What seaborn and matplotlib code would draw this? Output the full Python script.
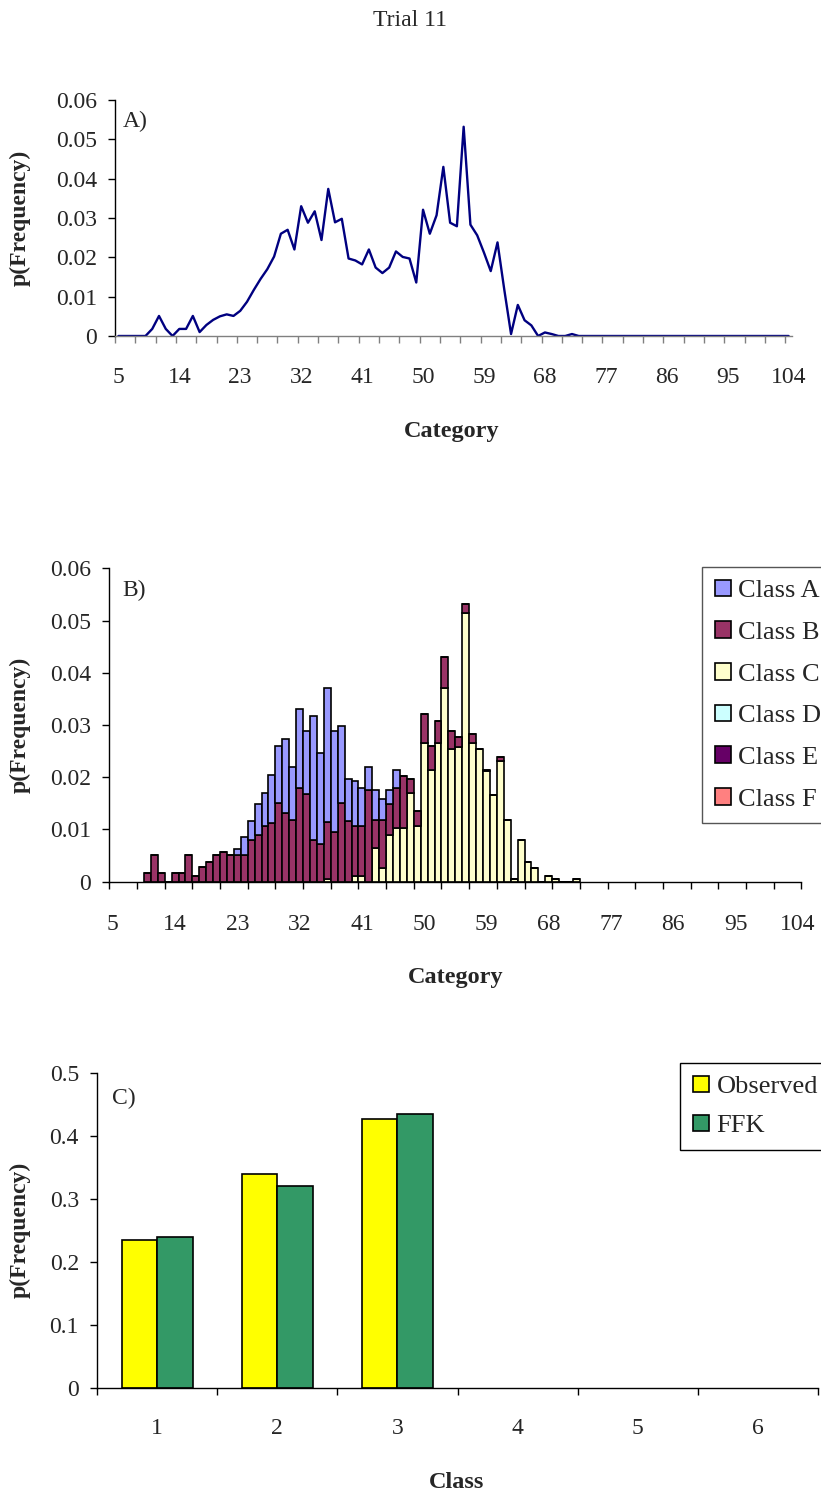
import numpy as np
import pandas as pd
import matplotlib
matplotlib.use("Agg")
import matplotlib.pyplot as plt
from matplotlib.patches import Patch
from matplotlib.ticker import FuncFormatter
import seaborn as sns

# ---------------- data ----------------
categories = list(range(5, 105))
label_categories = [5, 14, 23, 32, 41, 50, 59, 68, 77, 86, 95, 104]

# panel A: overall frequency, categories 5..73 then zeros
total_freq = [
    0.0, 0.0, 0.0, 0.0, 0.0,
    0.0018, 0.0051, 0.0018, 0.0, 0.0018, 0.0018, 0.0051, 0.0010, 0.0028, 0.0041,
    0.0050, 0.0055, 0.0051, 0.0064, 0.0087, 0.0117, 0.0145, 0.0170, 0.0202, 0.0260,
    0.0270, 0.0220, 0.0330, 0.0288, 0.0317, 0.0244, 0.0374, 0.0289, 0.0298, 0.0197,
    0.0192, 0.0182, 0.0220, 0.0174, 0.0160, 0.0174, 0.0215, 0.0201, 0.0197, 0.0136,
    0.0321, 0.0260, 0.0307, 0.0430, 0.0288, 0.0279, 0.0532, 0.0283, 0.0256, 0.0212,
    0.0165, 0.0238, 0.0118, 0.0005, 0.0079, 0.0040, 0.0027, 0.0, 0.0009, 0.0005,
    0.0, 0.0, 0.0005, 0.0,
] + [0.0] * 31

# panel B: per-class contributions, categories 5..73 then zeros
class_a = [
    0.0, 0.0, 0.0, 0.0, 0.0,
    0.0, 0.0, 0.0, 0.0, 0.0, 0.0, 0.0, 0.0, 0.0, 0.0,
    0.0, 0.0, 0.0, 0.0011, 0.0034, 0.0038, 0.0060, 0.0062, 0.0091, 0.0109,
    0.0142, 0.0102, 0.0151, 0.0120, 0.0238, 0.0174, 0.0256, 0.0192, 0.0147, 0.0081,
    0.0086, 0.0072, 0.0044, 0.0058, 0.0041, 0.0028, 0.0035, 0.0, 0.0, 0.0,
    0.0, 0.0, 0.0, 0.0, 0.0, 0.0, 0.0, 0.0, 0.0, 0.0,
    0.0, 0.0, 0.0, 0.0, 0.0, 0.0, 0.0, 0.0, 0.0, 0.0,
    0.0, 0.0, 0.0, 0.0,
] + [0.0] * 31
class_b = [
    0.0, 0.0, 0.0, 0.0, 0.0,
    0.0017, 0.0052, 0.0017, 0.0, 0.0017, 0.0017, 0.0052, 0.0011, 0.0029, 0.0038,
    0.0052, 0.0056, 0.0052, 0.0052, 0.0052, 0.0079, 0.0089, 0.0107, 0.0113, 0.0151,
    0.0131, 0.0118, 0.0179, 0.0168, 0.0079, 0.0072, 0.0110, 0.0096, 0.0151, 0.0116,
    0.0096, 0.0096, 0.0176, 0.0054, 0.0091, 0.0059, 0.0076, 0.0100, 0.0028, 0.0028,
    0.0055, 0.0045, 0.0042, 0.0061, 0.0034, 0.0020, 0.0018, 0.0017, 0.0, 0.0002,
    0.0, 0.0007, 0.0, 0.0, 0.0, 0.0, 0.0, 0.0, 0.0, 0.0,
    0.0, 0.0, 0.0, 0.0,
] + [0.0] * 31
class_c = [
    0.0, 0.0, 0.0, 0.0, 0.0,
    0.0, 0.0, 0.0, 0.0, 0.0, 0.0, 0.0, 0.0, 0.0, 0.0,
    0.0, 0.0, 0.0, 0.0, 0.0, 0.0, 0.0, 0.0, 0.0, 0.0,
    0.0, 0.0, 0.0, 0.0, 0.0, 0.0, 0.0005, 0.0, 0.0, 0.0,
    0.0011, 0.0011, 0.0, 0.0064, 0.0027, 0.0089, 0.0103, 0.0103, 0.0169, 0.0107,
    0.0266, 0.0214, 0.0266, 0.0370, 0.0255, 0.0257, 0.0514, 0.0266, 0.0255, 0.0212,
    0.0166, 0.0231, 0.0118, 0.0006, 0.0080, 0.0038, 0.0027, 0.0, 0.0011, 0.0006,
    0.0, 0.0, 0.0006, 0.0,
] + [0.0] * 31
class_names = ["Class A", "Class B", "Class C", "Class D", "Class E", "Class F"]
class_colors = ["#9999FF", "#993366", "#FFFFCC", "#CCFFFF", "#660066", "#FF8080"]

# panel C
class_labels = ["1", "2", "3", "4", "5", "6"]
observed = [0.234, 0.340, 0.426]
ffk = [0.240, 0.320, 0.435]

# ---------------- style ----------------
sns.set_theme(style="white")
plt.rcParams["font.family"] = ["Liberation Serif", "DejaVu Serif"]
FS = 17
LFS = 19

W, H = 821, 1494
fig = plt.figure(figsize=(W / 100, H / 100), dpi=100)


def rect(l, t, r, b):
    return [l / W, 1 - b / H, (r - l) / W, (b - t) / H]


def fx(x):
    return x / W


def fy(y):
    return 1 - y / H


yfmt = FuncFormatter(lambda v, p: "0" if abs(v) < 1e-12 else f"{v:g}")

# ---------------- Panel A ----------------
axA = fig.add_axes(rect(115, 100, 792, 336))
sns.lineplot(x=categories, y=total_freq, ax=axA, color="#000080",
             linewidth=1.7, estimator=None)
axA.set_xlim(4.5, 104.5)
axA.set_ylim(0, 0.06)
axA.set_xticks(label_categories)
axA.set_xticks(np.arange(4.5, 104.6, 3), minor=True)
axA.set_yticks(np.arange(0, 0.0601, 0.01))
axA.yaxis.set_major_formatter(yfmt)

# ---------------- Panel B ----------------
axB = fig.add_axes(rect(109.3, 568.3, 801.3, 881.7))
dfB = pd.DataFrame({
    "Category": categories * 3,
    "Class": ["Class A"] * len(categories) + ["Class B"] * len(categories)
             + ["Class C"] * len(categories),
    "p": class_a + class_b + class_c,
})
dfB = dfB[dfB["p"] > 0]
sns.histplot(data=dfB, x="Category", weights="p", hue="Class",
             hue_order=class_names[:3], palette=class_colors[:3],
             multiple="stack", discrete=True, shrink=1, alpha=1,
             edgecolor="black", linewidth=1.2, legend=False, ax=axB)
axB.set_xlim(4.5, 104.5)
axB.set_ylim(0, 0.06)
axB.set_xticks(label_categories)
axB.set_xticks(np.arange(4.5, 104.6, 4), minor=True)
axB.set_yticks(np.arange(0, 0.0601, 0.01))
axB.yaxis.set_major_formatter(yfmt)

handlesB = [Patch(facecolor=c, edgecolor="black", linewidth=1.2, label=n)
            for n, c in zip(class_names, class_colors)]
legB = axB.legend(handles=handlesB, loc="upper left",
                  bbox_to_anchor=(fx(702), fy(567)), bbox_transform=fig.transFigure,
                  borderaxespad=0, fontsize=LFS, frameon=True, fancybox=False,
                  framealpha=1, edgecolor="#555555", handlelength=0.6,
                  handleheight=0.6, handletextpad=0.3, labelspacing=0.72,
                  borderpad=0.48)
legB.get_frame().set_linewidth(1.0)

# ---------------- Panel C ----------------
axC = fig.add_axes(rect(97, 1072.7, 818, 1387.7))
dfC = pd.DataFrame({
    "Class": class_labels[:3] * 2,
    "Series": ["Observed"] * 3 + ["FFK"] * 3,
    "p": observed + ffk,
})
sns.barplot(data=dfC, x="Class", y="p", hue="Series", order=class_labels,
            hue_order=["Observed", "FFK"],
            palette={"Observed": "#FFFF00", "FFK": "#339966"},
            width=0.59, edgecolor="black", linewidth=1.2, errorbar=None,
            saturation=1, legend=False, ax=axC)
axC.set_xlim(-0.5, 5.5)
axC.set_ylim(0, 0.5)
axC.set_xticks(range(6))
axC.set_xticklabels(class_labels)
axC.set_xticks(np.arange(-0.5, 5.6, 1), minor=True)
axC.set_yticks(np.arange(0, 0.501, 0.1))
axC.yaxis.set_major_formatter(yfmt)

handlesC = [Patch(facecolor="#FFFF00", edgecolor="black", linewidth=1.2, label="Observed"),
            Patch(facecolor="#339966", edgecolor="black", linewidth=1.2, label="FFK")]
legC = axC.legend(handles=handlesC, loc="upper left",
                  bbox_to_anchor=(fx(680), fy(1063)), bbox_transform=fig.transFigure,
                  borderaxespad=0, fontsize=LFS, frameon=True, fancybox=False,
                  framealpha=1, edgecolor="black", handlelength=0.6,
                  handleheight=0.6, handletextpad=0.3, labelspacing=0.62,
                  borderpad=0.48)
legC.get_frame().set_linewidth(1.0)

# ---------------- common axis styling ----------------
for ax, xpad in [(axA, 22), (axB, 23), (axC, 22)]:
    sns.despine(ax=ax, top=True, right=True)
    ax.set_xlabel("")
    ax.set_ylabel("")
    ax.set_facecolor("white")
    ax.grid(False)
    ax.spines["left"].set_color("black")
    ax.spines["bottom"].set_color("black")
    ax.spines["left"].set_linewidth(1.0)
    ax.spines["bottom"].set_linewidth(1.0)
    ax.tick_params(axis="x", which="major", length=0, pad=xpad, labelsize=FS,
                   bottom=True)
    ax.tick_params(axis="x", which="minor", length=5, width=1.0, direction="out",
                   bottom=True, color="black")
    ax.tick_params(axis="y", which="major", length=5, width=1.0, direction="out",
                   left=True, pad=8, labelsize=FS, color="black")

axA.spines["bottom"].set_color("#808080")
axA.tick_params(axis="x", which="minor", color="#808080")

# ---------------- texts ----------------
fig.text(fx(410), fy(20), "Trial 11", ha="center", va="center", fontsize=FS)
fig.text(fx(123), fy(121), "A)", ha="left", va="center", fontsize=FS)
fig.text(fx(122), fy(590), "B)", ha="left", va="center", fontsize=FS)
fig.text(fx(112), fy(1098), "C)", ha="left", va="center", fontsize=FS)

fig.text(fx(452), fy(432), "Category", ha="center", va="center",
         fontsize=FS + 0.5, fontweight="bold")
fig.text(fx(456), fy(977), "Category", ha="center", va="center",
         fontsize=FS + 0.5, fontweight="bold")
fig.text(fx(457), fy(1483), "Class", ha="center", va="center",
         fontsize=FS + 0.5, fontweight="bold")
for yc in (218, 725, 1230):
    fig.text(fx(20), fy(yc), "p(Frequency)", ha="center", va="center",
             rotation=90, fontsize=FS, fontweight="bold")

fig.savefig("out.png", dpi=100, facecolor="white")
